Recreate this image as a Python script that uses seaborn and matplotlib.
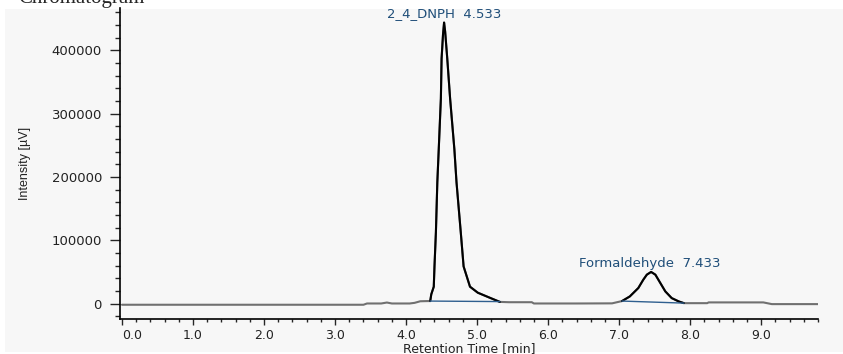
import numpy as np
import pandas as pd
import matplotlib.pyplot as plt
import seaborn as sns
from matplotlib.ticker import MultipleLocator, FixedLocator
from matplotlib.patches import Rectangle

# detector trace (time in min, intensity in uV)
time_min = [0.0, 1.0, 2.0, 3.0, 3.40, 3.45, 3.65, 3.73, 3.80, 4.05, 4.12, 4.20,
            4.30, 4.34, 4.355, 4.39, 4.40, 4.42, 4.44, 4.46, 4.49, 4.50, 4.52,
            4.535, 4.55, 4.58, 4.62, 4.68, 4.71, 4.77, 4.81, 4.90, 5.01, 5.18,
            5.32, 5.45, 5.60, 5.77, 5.80, 6.40, 6.90, 7.04, 7.15, 7.27, 7.34,
            7.39, 7.45, 7.51, 7.58, 7.65, 7.74, 7.84, 7.91, 7.95, 8.24, 8.26,
            9.03, 9.15, 9.80]
intensity = [-1500, -1500, -1500, -1500, -1500, 500, 500, 2000, 500, 500, 1500, 4000,
             4300, 4300, 15000, 27000, 59000, 113000, 192000, 244000, 324000, 387000, 425000,
             444000, 430000, 387000, 324000, 244000, 192000, 113000, 59000, 27000, 17500, 9500,
             3000, 2500, 2500, 2500, 500, 500, 700, 4300, 11600, 24900, 38000,
             46000, 50300, 46000, 32800, 19600, 9000, 3700, 1100, 1000, 1000, 2200,
             2200, -500, -500]

# integrated peaks
peak_names = ["2_4_DNPH", "Formaldehyde"]
peak_rt = [4.533, 7.433]
peak_start = [4.34, 7.04]
peak_end = [5.32, 7.91]
base_start = [4300, 4300]
base_end = [3500, 1100]

df = pd.DataFrame({"t": time_min, "v": intensity})

fig = plt.figure(figsize=(8.43, 3.54), dpi=100)
sns.set_style("ticks")
plt.rcParams["font.family"] = ["DejaVu Sans"]

# grey panel behind the plot
fig.patches.append(Rectangle((5 / 843, 0.005), 838 / 843, 1 - 9 / 354 - 0.005,
                             transform=fig.transFigure, facecolor="#f7f7f7",
                             edgecolor="none", zorder=-10))

ax = fig.add_axes([120 / 843, 1 - 319 / 354, 698 / 843, 311 / 354])
ax.set_facecolor("none")
ax.set_zorder(5)

sns.lineplot(data=df, x="t", y="v", ax=ax, color="#707070", lw=1.5,
             estimator=None, sort=False)
for s, e, b0, b1 in zip(peak_start, peak_end, base_start, base_end):
    seg = df[(df.t >= s) & (df.t <= e)]
    sns.lineplot(data=seg, x="t", y="v", ax=ax, color="black", lw=1.5,
                 estimator=None, sort=False)
    ax.plot([s, e], [b0, b1], color="#2f5f8f", lw=1.0)

for name, rt in zip(peak_names, peak_rt):
    top = df[(df.t > rt - 0.3) & (df.t < rt + 0.3)].v.max()
    ax.annotate(f"{name}  {rt:.3f}", xy=(rt, top), xytext=(0, 1.5),
                textcoords="offset points", ha="center", va="bottom",
                fontsize=9.5, color="#1f4e79")

ax.set_xlim(-0.028, 9.80)
ax.set_ylim(-24000, 467000)

ax.xaxis.set_major_locator(FixedLocator(np.arange(0, 10)))
ax.xaxis.set_minor_locator(MultipleLocator(0.2))
ax.yaxis.set_major_locator(MultipleLocator(100000))
ax.yaxis.set_minor_locator(MultipleLocator(20000))
ax.set_xticklabels([f"{v:.1f}" for v in range(10)])
ax.get_xticklabels()[0].set_ha("left")

ax.tick_params(axis="x", which="major", length=4, width=1, pad=3,
               labelsize=9, labelcolor="#222222")
ax.tick_params(axis="x", which="minor", length=2.4, width=1)
ax.tick_params(axis="y", which="major", length=7, width=1, pad=6,
               labelsize=9.5, labelcolor="#222222")
ax.tick_params(axis="y", which="minor", length=3.5, width=1)

for side in ["top", "right"]:
    ax.spines[side].set_visible(False)
for side in ["left", "bottom"]:
    ax.spines[side].set_color("black")
    ax.spines[side].set_linewidth(1.2)

ax.set_xlabel("Retention Time [min]", fontsize=9, color="#222222", labelpad=0)
ax.set_ylabel("Intensity [µV]", fontsize=9, color="#222222",
              family=["Liberation Sans Narrow", "Liberation Sans"])
ax.yaxis.set_label_coords(-0.1275, 0.5)

fig.text(18 / 843, 1 - 3 / 354, "Chromatogram", family=["Liberation Serif"],
         fontsize=15, va="baseline", ha="left")

fig.savefig("out.png", dpi=100)
